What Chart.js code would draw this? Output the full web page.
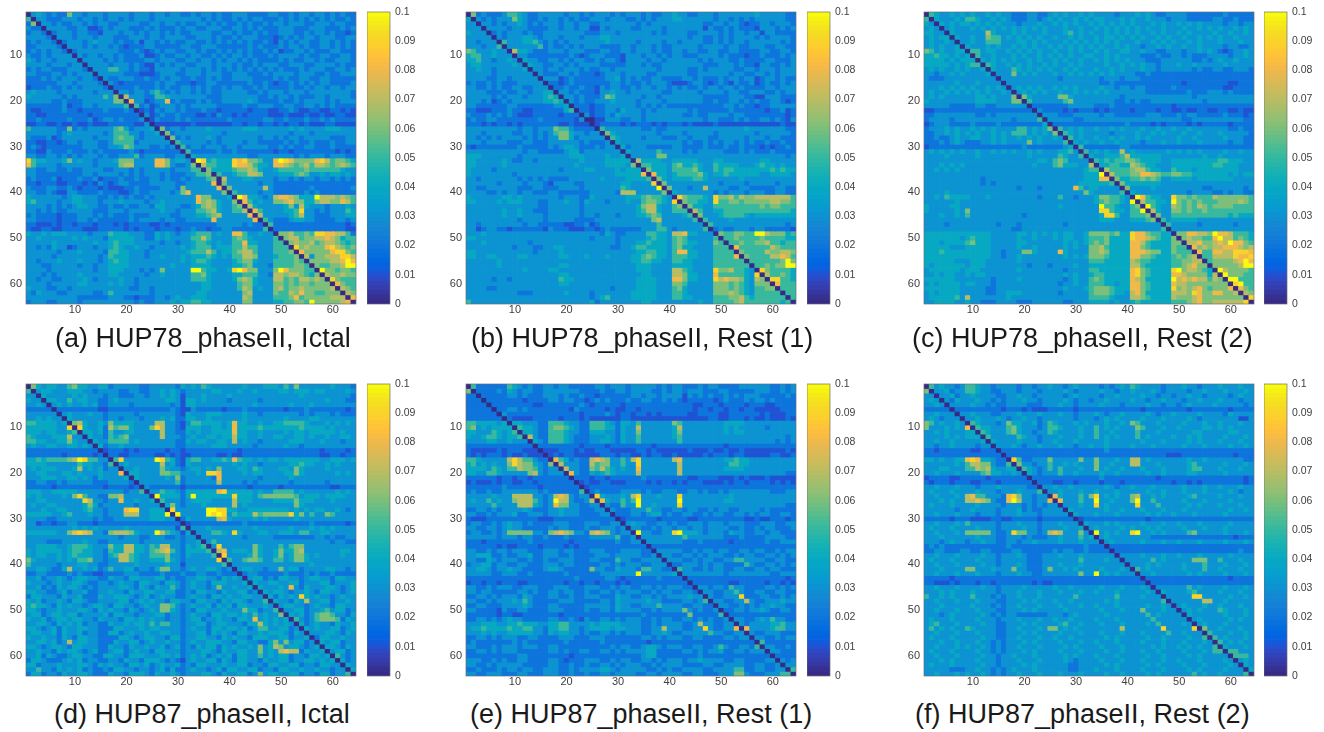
<!DOCTYPE html>
<html>
<head>
<meta charset="utf-8">
<script src="https://cdn.jsdelivr.net/npm/chart.js@4"></script>
<style>
body { margin: 0; background: #fff; width: 1324px; height: 732px; overflow: hidden; position: relative; }
canvas { position: absolute; filter: blur(0.35px); }
.cap { position: absolute; font: 27px "Liberation Sans", sans-serif; color: #1a1a1a; white-space: nowrap; }
</style>
</head>
<body>
<script>
const tickVals = [10, 20, 30, 40, 50, 60];
const barTicks = [0, 0.01, 0.02, 0.03, 0.04, 0.05, 0.06, 0.07, 0.08, 0.09, 0.1];
const titles = ['(a) HUP78_phaseII, Ictal', '(b) HUP78_phaseII, Rest (1)', '(c) HUP78_phaseII, Rest (2)',
    '(d) HUP87_phaseII, Ictal', '(e) HUP87_phaseII, Rest (1)', '(f) HUP87_phaseII, Rest (2)'];
const parula = [
    [.2081,.1663,.5292],[.2116,.1898,.5777],[.2123,.2138,.6270],[.2081,.2386,.6771],[.1959,.2645,.7279],[.1707,.2919,.7792],[.1253,.3242,.8303],[.0591,.3598,.8683],
    [.0117,.3875,.8820],[.0060,.4086,.8828],[.0165,.4266,.8786],[.0329,.4430,.8720],[.0498,.4586,.8641],[.0629,.4737,.8554],[.0723,.4887,.8467],[.0779,.5040,.8384],
    [.0793,.5200,.8312],[.0749,.5375,.8263],[.0641,.5570,.8240],[.0488,.5772,.8228],[.0343,.5966,.8199],[.0265,.6137,.8135],[.0239,.6287,.8038],[.0231,.6418,.7913],
    [.0228,.6535,.7768],[.0267,.6642,.7607],[.0384,.6743,.7436],[.0590,.6838,.7254],[.0843,.6928,.7062],[.1133,.7015,.6859],[.1453,.7098,.6646],[.1801,.7177,.6424],
    [.2178,.7250,.6193],[.2586,.7317,.5954],[.3022,.7376,.5712],[.3482,.7424,.5473],[.3953,.7459,.5244],[.4420,.7481,.5033],[.4871,.7491,.4840],[.5300,.7491,.4661],
    [.5709,.7485,.4494],[.6099,.7473,.4337],[.6473,.7456,.4188],[.6834,.7435,.4044],[.7184,.7411,.3905],[.7525,.7384,.3768],[.7858,.7356,.3633],[.8185,.7327,.3498],
    [.8507,.7299,.3360],[.8824,.7274,.3217],[.9139,.7258,.3063],[.9450,.7261,.2886],[.9739,.7314,.2666],[.9938,.7455,.2403],[.9990,.7653,.2164],[.9955,.7861,.1967],
    [.9880,.8066,.1794],[.9789,.8271,.1633],[.9697,.8481,.1475],[.9626,.8705,.1309],[.9589,.8949,.1132],[.9598,.9218,.0948],[.9661,.9514,.0755],[.9763,.9831,.0538]
].map(c => `rgb(${c.map(v => Math.round(v * 255)).join(',')})`);

// one string per row, one char per column, in hundredths (a = 0.1), spaced every 8 columns
const panelA = [
'03432322 63323332 33332333 23323322 32332322 33322223 32232332 33232322',
'50332223 33233232 33232333 23333333 33232322 32323322 23232323 23232232',
'26033232 23323233 22333322 33233232 23323232 23232232 33233322 33323322',
'32203333 22331123 23332223 23222323 32233322 33232322 23332223 33222323',
'23320233 32332213 33233232 33232322 33332233 23223232 23332232 33232212',
'33332033 32333233 32223332 33233332 23332322 32333222 12323233 23332233',
'23233202 33323433 32322313 32323223 32232323 23232232 13232332 23323232',
'22333320 33323233 23212223 32222233 22333222 22232322 23233232 23323232',
'23232332 02333333 33222321 23233223 32322323 23232232 31223323 22233222',
'32232333 30323323 32322231 12322332 33223232 33232223 23333232 23322332',
'43233233 33033332 32322223 32333223 32332323 32323222 23232233 23223332',
'33332333 23303333 23332321 13232332 23332333 23223233 32233322 33332322',
'23233222 33320333 55332322 13333323 33232323 23232323 23222323 33223323',
'33222332 32333033 33322211 12333223 33233322 33322232 33332333 22322333',
'22232323 33233203 22333223 22323322 32232322 33332222 32322332 23322222',
'22222233 32333320 32122222 23233222 12233222 22232232 12232323 23322223',
'12223223 23233332 02222322 23232233 23232232 33223232 22232232 33233233',
'34333323 33333233 30332332 45323233 23232233 33322323 33233323 33333332',
'43333332 32333335 36073332 25543333 33322233 33333223 23323222 33233332',
'33333223 22233333 36608331 23382322 23232233 33343222 23223233 33232333',
'22222223 12233233 33350523 12333232 33333222 22322333 22332233 23232222',
'21122223 22122223 22232012 13233232 22322122 22212221 12232112 21122121',
'22112222 22221222 22222203 12322322 21121322 12122221 11211121 12112211',
'22322222 32223123 32322230 13222323 22222223 22222233 22322232 23232222',
'11221121 12112111 22222113 01111111 21111111 22122122 12122121 11221111',
'53333322 62323333 35642333 40623323 33343333 33444333 33343433 33444333',
'33333323 43333332 35553323 34062333 33333323 33333333 33323332 33333333',
'32223123 33333233 35655323 33306232 33343233 33333233 23233233 33322233',
'22112212 33233322 35555233 33330533 33323233 33233222 22323223 22232233',
'23212222 22233322 33465333 22323052 33233323 32333332 23232233 22232222',
'22113222 32223232 22223212 22222205 22222322 32222222 12212222 22221212',
'33223323 23233323 22333523 33322330 43333333 33322333 33332323 33233322',
'95443334 63433233 34666333 38863443 0a945444 98966533 8a986666 89756654',
'85333323 33333233 33677333 38863223 60755444 98875443 88765675 77656765',
'33223322 32233332 23332323 33332333 55064444 56676433 45555565 55555433',
'33222222 22233233 33232323 33232223 35560533 45577633 34445653 34344343',
'23222312 22322312 22322322 33232232 33356073 33443333 23323233 23323232',
'22122211 22212132 12332222 33333223 33338063 33333233 22222222 22222222',
'32223322 32122212 11122322 22333263 33333806 33333373 22222223 22222223',
'33223211 33222232 22112322 33332368 33333360 53333233 22222232 32222222',
'43333332 34433322 32323223 23333333 38663334 0a844323 78876444 a7776765',
'45333323 34433323 33433332 33433333 38676433 60853433 66786644 67766875',
'33332323 23443322 32232233 24433322 34676433 56074333 33463743 33233343',
'33232322 33333222 33323333 33433233 35567433 55708533 33445933 23233354',
'23222212 22333232 32223222 33332233 34456733 33380733 33345733 22233344',
'33222212 22332322 22223233 33233223 33338333 33338053 22234433 22223323',
'22111212 21222122 21212222 11212222 22222333 33232205 22222222 22222212',
'21122112 22211122 22212122 21222122 32212233 22222250 22222222 22222211',
'43343444 33332333 54443332 24343233 45553433 88533433 06675565 99887752',
'33433333 34343332 44444332 24343333 55753333 56543333 50677566 77876455',
'33333433 33333433 45444333 33233233 45543433 55844333 55067667 56776545',
'33232433 12333233 45433433 23333343 45553444 55755333 55509676 66897656',
'33333323 33433332 55443332 33333334 55575344 56775333 55560866 66689965',
'33333233 33333323 54443332 33433343 44454343 55776333 45556073 66777997',
'33233343 33433323 45443333 33333343 45543333 45664333 55556506 666778a8',
'33322333 33233233 44443333 33334333 44443333 44563332 55556650 655667aa',
'33332333 33333233 44433323 23633333 aa544334 9a866333 6a866655 0a665665',
'33323233 33433333 44333332 33433333 55643333 44555332 77677654 60766766',
'33233223 33343233 33433233 33333333 55543333 46764333 77565776 76096555',
'33332333 33443333 43433233 33333333 33443333 35664333 66565665 66608655',
'43332233 23333333 33332233 23333333 33443333 35763433 67566766 66670765',
'32433322 33333223 53333333 23333333 34433333 33673333 65576866 55666076',
'33333333 33222222 33322122 23323433 44433333 33763333 55568566 66677708',
'23332233 33233333 33333232 23334344 55443333 33663333 4455665a 66666780'
];
const panelB = [
'06232223 55432233 33323323 23332323 33232233 43322333 23333333 43333322',
'40323233 36432232 33232322 33323332 23232333 44333333 23323232 33333322',
'33033232 33432323 33233233 22333333 32323333 33333322 33233212 23323332',
'33303333 23332222 33233233 11323333 22333323 33333313 22323222 13332323',
'43330232 33323223 33333332 22333233 33332323 33322333 32323323 31332222',
'33333032 33344323 33233323 33443333 33333333 33323322 32323333 23233332',
'33233305 33344532 32323333 33343333 32333323 32333322 32323323 33333232',
'33323350 33333352 32232323 33222233 23332322 33333233 33233223 33223322',
'65333433 07443222 33323332 22332233 23332322 33233223 32233222 23322332',
'45533433 30332222 22223212 33322213 33233232 33222333 32322212 23222323',
'44533233 43043322 33232332 23233213 33323323 33333232 33322322 22332223',
'34433333 34304332 23323233 33222223 33232233 33333322 23332322 13322323',
'33433233 33340332 33233323 22332333 33333233 33322323 33332233 23332333',
'33333233 33333032 22332322 21233323 33322333 33322333 33323322 33232333',
'33332233 23333303 33123222 22233423 23223322 22332322 23233233 12332322',
'23223232 22333330 22123222 22223323 22323332 11123321 23213223 12322323',
'33223232 23322333 02232232 21323322 32332332 32322323 32332322 22332333',
'33332223 22332334 40332322 21334332 33333322 33333233 33233223 33223233',
'33333232 33323334 54033232 22365333 33233233 33333322 22233322 11333222',
'33323123 23333334 45403232 23334333 32333323 33333322 32233232 32233212',
'33222222 33222222 23340222 12233333 32323232 22222222 22332322 12233333',
'22111222 32211222 22245022 12233243 33232333 33323222 22232222 22122312',
'32223232 32111222 22122203 12232433 33233333 33223223 33323322 22222212',
'23223322 22222232 22222130 01133322 33233333 33333323 32223232 23323213',
'22212122 12122222 22112111 01222212 12221212 22121111 21111111 11111211',
'33333333 33233233 36553222 20533333 33223223 33333333 33333343 33333322',
'33323333 32233232 35664332 33064333 33333233 33233333 23333333 23333332',
'33232323 33323232 33664233 33305433 33233322 23323332 23333323 33233222',
'33323333 22233222 33333323 22230433 33333333 33232232 32332323 22322322',
'21222222 22322222 32344322 23233042 33322222 33222232 22322322 21212232',
'33333333 33323322 22234423 33333304 33333533 33232333 33222323 22232222',
'44433333 33233333 33334443 33343340 33333663 33333333 33333333 33333323',
'44333334 32233233 33333343 33344444 07444433 44444333 44333333 34433333',
'44333334 33333333 33333433 33344443 60554443 56445433 54444333 45443433',
'43333233 33333333 33233334 43333434 44064443 55556433 54554444 44454544',
'43333333 32333333 33333333 33333444 44808443 45555643 44544444 43344443',
'33233333 33232323 22223333 33433334 44450643 44445543 33333433 33333333',
'33333323 33323332 13333223 33333344 33339063 33333333 32333323 33332333',
'33223333 33222332 22333323 33333354 33333a06 33323373 33322332 22223322',
'33332232 33233222 33222222 33333277 73333360 43333333 23233323 33223322',
'43333334 43433333 33233322 43333334 44565543 09655543 96675766 77777775',
'44333343 44433322 33343324 33323334 33566543 90655443 95566566 66677665',
'33333333 33333322 33333323 33333333 34677433 56064433 55555555 56566555',
'33333334 33433222 33333323 33333333 34577433 55507533 44555555 55555554',
'33333334 33433332 33333323 32333233 34456533 33450633 34555543 44444444',
'33333333 33233332 33333222 23333333 33336733 33335053 33343333 33333333',
'33233333 33323322 22211223 12333333 33333533 33333305 33333333 33333323',
'33123322 12222221 32221112 21232222 22333553 23333350 23223332 33222221',
'33343333 33333333 33333333 33243223 33355443 77844333 06556655 aa766645',
'44333333 33333333 33333333 23333233 33345443 56533333 50556555 56555544',
'33343333 33332333 33333333 33333233 34454443 56544333 65055655 66755455',
'33333333 32333223 34433333 33332233 45544443 56443333 55508555 55576555',
'44333333 33333233 33433333 33333333 34455443 58844333 55550655 55766776',
'44334433 33443333 33443334 33343333 44565443 55544333 55558065 55577875',
'33333343 33333333 33333333 33333333 44554433 55443333 55555505 555556a6',
'33333343 33333333 33443333 33333333 34443333 44443333 55555550 556566aa',
'33333333 33343333 44333333 33333333 34443333 77543333 96675543 09655554',
'33333333 33333333 33443333 33333333 33443333 77644333 85555543 90755654',
'33333233 23333333 33544333 33333333 34444333 88644333 97877643 76099554',
'33333333 33333333 33443333 33333333 34444333 66533333 66656543 66608555',
'33332233 33333333 33333333 33332333 34444333 56433333 66656543 55660555',
'33333333 33222333 33343333 23333333 44444333 55433333 66676543 55555055',
'33333333 33333333 33333333 23453333 44444333 55443333 55566754 55555505',
'53333333 33333333 33333333 42333333 33443333 33333433 55556755 55555450'
];
const panelC = [
'05433434 34334343 32223322 34343343 43333233 34343223 33322222 22322222',
'50433343 55433434 32223323 43433434 34433343 43343332 33322222 33223222',
'43043434 43434343 33233343 34343433 43434343 43334343 34343433 33233233',
'34303433 34343434 34343434 33343343 34343434 34343343 33433434 34334343',
'44330433 33337433 34343334 33345343 43343434 34334343 34343333 43343343',
'34344043 34336553 43434343 34334343 34344343 43433434 33433434 34334333',
'34334303 34335553 33443434 33343434 34343433 34334343 43343433 34333433',
'34343340 43334343 34343433 43434343 43433434 33233434 33433433 33233223',
'65343344 05534433 43434343 34334343 34343344 33433223 33233434 32123343',
'44544343 40533433 34343343 43434334 43343433 33222322 33232223 33323343',
'44443434 44043434 34334343 34343343 34343434 33322233 33332232 34334333',
'44444343 45505433 43434334 34334343 33343343 43433233 34334333 33433333',
'34343343 43340433 35434343 43343433 34334343 33433233 33332322 33223332',
'33233434 33334033 36343433 34334343 43434333 32232222 22222222 22222222',
'32223333 33333303 33333333 33233333 33233323 33222222 22222222 22222222',
'33333343 33433330 33333333 33333333 33223222 22222222 22122222 22211222',
'33343434 34334343 03434343 34343433 33433233 23322222 32222222 22112222',
'34334343 43434334 30343434 33433434 34343333 33322222 22232223 33232222',
'34343333 33443433 36064333 33664333 33333323 33333333 33332333 33333333',
'43333333 33444433 36605333 33356333 33333223 23223333 33333323 33333333',
'33333222 22332233 33330222 22223333 32223222 22222222 12222222 22222222',
'11222222 22222222 22222032 22212122 21212222 12222122 11211221 12211211',
'22333333 33223233 33333303 33222333 33233222 22233322 23233222 22322212',
'23333233 33333333 32333350 33333223 33333333 33333333 33223333 33333322',
'12333222 23222232 22222224 02222222 22222223 22221212 22212122 22212222',
'23334343 34343433 33553434 60534343 34334343 33433433 43343333 33322322',
'22334343 43433434 35553434 36054343 33332333 34334343 33433433 34333332',
'22322343 34433434 33434343 34305343 34334343 34343333 34334333 33433322',
'22232343 22233434 33336343 33350434 33433433 33233343 34333433 33323322',
'12222222 22222222 22232222 22234052 22222233 22222222 22222222 22222222',
'34343434 33433434 34334343 33445305 34343373 43333334 34343433 33433433',
'33334333 33433333 33334333 33543350 43344457 44444433 33333343 34333333',
'33333333 33333333 33333344 35653333 05454556 65444433 44444444 45544433',
'33343434 33333333 33333433 35644433 70445544 76544333 44444444 55444333',
'33434343 33333333 33333333 33333334 55075555 67754433 54443444 44444333',
'33333333 33333333 33333333 33333334 44a07555 66887655 66554444 44434344',
'33333333 33323333 33333333 33333334 44880644 55656533 44443444 44443333',
'33333333 33323233 33333333 33333344 44445064 44444433 33333333 33333333',
'33333333 33333333 33233323 33333853 44333306 33334333 33333322 33333323',
'33334333 33333333 33333333 33333336 43333350 43333333 33323333 22323322',
'33435444 43334333 33333323 33533233 34665543 0a854433 96656555 76666665',
'33333343 33333333 33333333 33333333 34565543 a0755443 a6565655 56666765',
'43333443 33333333 33333333 33433333 33a55433 560a5433 76565765 66665555',
'43333343 63333333 33333333 33333333 33995443 55a07433 66565565 55555555',
'33343343 53333333 33323333 33333333 33499533 55560633 55555555 55545444',
'33333333 33333333 33333333 33333333 33444333 44456053 44444333 33333333',
'33332333 33333323 33233333 33323333 33333333 33333305 33333233 33332333',
'33333333 33333333 32233333 33333333 33333333 33333350 33333333 33333333',
'44444444 44444333 33443434 34344334 66665644 98865544 06688776 a8875554',
'44444443 45444333 33433433 34344334 55564444 98876544 60676655 8a775654',
'44434444 56444333 33443333 33343434 56564444 88754444 66077866 787a8865',
'44444333 44444333 33433433 33343433 66754444 88654444 65508676 77888767',
'44454444 44444332 33366433 33843333 66764444 88876644 65550855 88779998',
'44444444 44444332 33433333 33343434 66654444 88665444 56567055 77779889',
'44444433 34443333 33433333 33333333 55544444 76554444 55667705 666678a8',
'43444444 34443333 33332333 23333433 44444444 77544444 55678660 666667aa',
'34444443 44433333 33433333 33323333 55444444 89654444 9a677654 0a766665',
'33434433 43443333 33333333 33343433 45544444 89654444 88766664 70a66655',
'44444433 33333233 33433333 33323433 56544444 87644444 a7878775 760aa555',
'34344443 44333233 33333333 33233433 55544344 88654444 87766666 66609a55',
'44444443 33332233 33333333 33343334 56665444 88654444 96767865 66680865',
'34344443 33332233 44433333 33233333 56665443 78644444 77769866 88667076',
'34444453 73333333 43333333 33333333 55554333 77654444 76667866 66666609',
'33444433 43322233 33222333 33322333 44443433 45444444 55567866 77777790'
];
const panelD = [
'06434433 56443344 23333322 33333243 43543333 33433344 43536333 33343332',
'50344333 44433233 33223322 33434323 33334433 34334333 34434443 44333343',
'33043333 34343332 33222332 33434313 33433334 33333333 33333433 33333332',
'43304433 53443322 34333333 33344314 43433332 33333233 33333333 33433322',
'33430343 43343422 33332333 33332314 43333333 33334333 33343334 33333333',
'22222022 22222211 22222222 22223211 32222212 22322222 22122232 22222212',
'33333303 43334332 33333233 33333214 33344433 33433233 33333232 33323222',
'33434330 43333332 33233323 33434224 43343333 33433333 33433334 43333333',
'55444434 06743343 64444333 37733213 55444434 84433433 44555543 33434343',
'44444433 90943342 75664333 69733214 44334434 84444544 44444544 44343333',
'44434433 45044342 53344333 33733224 34334444 84433433 33434434 44443433',
'54333444 73304332 54563333 33733323 43344344 74433433 44334434 33433443',
'55443344 64330433 55553433 33333224 34433443 73433233 33344433 34333233',
'34334433 44343042 33433333 33333223 33334443 33332333 33433233 33333333',
'22222222 22222201 22212122 22212212 22222222 21222222 22222222 21222212',
'22222221 22222120 22112222 21121211 22222112 11222222 22222222 21122122',
'44545555 67a95533 05933333 3a954214 55334454 85443434 43444444 43344434',
'44443333 33544332 50343333 33734214 33333333 43433233 33344544 33434333',
'34344433 34734342 33033433 33643323 44343633 34435433 34436433 33433333',
'33443334 43433343 33804433 33665533 34399833 33434433 33446433 33334343',
'33344433 44343243 33340433 33343623 33332833 33333233 33343333 33333333',
'22332232 33333222 33332033 33333523 33333733 33232333 33323333 33233333',
'22222122 22222221 22221203 22222212 22222222 22212222 21222222 22211222',
'44433444 44333333 33323350 33544324 44444894 44443433 55553433 33334343',
'43433334 36953322 66733333 0a444424 a4444444 94443566 66665344 43444433',
'33443333 33397332 33833433 40533323 44443333 74443333 44446444 33343333',
'34334433 33346423 33333233 33046323 33433333 73433333 33336433 33333333',
'33343344 33345332 33389933 44409333 333aa994 43344444 44434343 44334323',
'44444334 53334332 33377733 444a0a33 333a9a93 54447566 66694635 33653333',
'33332233 33333232 23333333 44433024 33333784 33334343 33334333 33333333',
'33122122 33222122 22222222 22222201 22222222 22322222 22222223 22222212',
'33333333 34343433 33343333 33333150 33343333 33334333 33343334 34343333',
'44444433 68987332 67776433 3a754314 03335543 94333443 34443553 34433333',
'33333333 33333333 33233322 33322323 30333333 33233333 22222222 33232233',
'33332223 33343322 33333323 33333323 34035333 33333333 33333333 33323322',
'33444433 45554333 64477443 54773324 34503933 33336433 35356633 33333333',
'43444443 45544332 54477443 56785324 44450783 44436433 46446733 33333443',
'43443343 45444332 45775433 55563324 33335093 33346433 46346643 43333433',
'64333343 43556332 33775433 44464323 33333905 33566533 55346643 33333333',
'53333323 33443322 33333433 33343313 33333350 33333333 33333334 33333333',
'33443224 73343423 53344233 24663323 43344323 03443323 36344233 33443323',
'22332222 32322112 22233322 22322232 23322322 20233222 22322232 32232222',
'33423343 23443322 43324433 34423223 34433243 43034423 24433234 43324433',
'43332343 34432233 23433244 33244323 43324443 33404334 43344233 34423334',
'33423243 44323233 33443243 24335323 43323633 43340433 34383243 33443234',
'44332234 23342233 43324334 43344223 24433243 34423043 44323343 24433234',
'24433324 33422243 34443234 23433223 43324434 33443304 24343943 43323433',
'43423343 24432233 33442343 43324433 24433243 44323350 43324373 34423343',
'45443243 43323443 24433234 33665323 43342434 24433343 03443323 43324433',
'44323343 33443243 43324323 43664323 24433343 33644233 50334423 34534423',
'34423443 44233334 24433233 34423323 43324434 43435343 36043423 56653324',
'43342344 34433243 33244343 43323323 44233433 24438343 43405323 56665243',
'33443243 43423322 43343443 53553323 34423443 33244743 43430423 43324334',
'44323424 33443322 24433343 44333323 43324434 43423553 34423043 43344234',
'34433424 33423322 44234334 33443323 34424343 24433434 44324303 33443243',
'43343324 32443322 22443234 43324423 34433243 43324443 34423340 24433433',
'33443423 73443322 24334423 43343323 43344433 24433224 63634423 04344233',
'44323443 24433322 43324334 33423423 24344243 43343634 76344323 40443243',
'33433243 44323422 34423433 24433323 33443243 34433634 37877243 34034423',
'33424322 34433224 43324443 33443423 43423434 24433534 34423324 43405323',
'24432223 43423322 33243324 44323213 43344243 24433243 34423344 34340423',
'44233343 33443243 43324434 23433423 24433343 34423324 43344233 24433043',
'33533243 43423223 24433233 23424223 43323424 43344233 24433433 43323304',
'24423324 33443222 43324443 24334323 33443243 34423634 43344233 24423350'
];
const panelE = [
'05222222 54323223 32332222 23323332 33333232 33222323 32222333 33322323',
'60222232 43233223 33333322 22322332 33332232 33233322 23322222 33322323',
'22022222 33232223 33232232 21222222 33233233 33132323 22323233 32222232',
'22202222 22212222 33233221 23232223 22332232 32122222 12322232 33232222',
'22220222 22222112 22222232 12222212 22222222 22221122 21222212 22112222',
'22222022 33232222 22221322 22212112 21222222 22221221 22122122 11111222',
'22222203 22222222 22222212 22232122 12212122 22211222 21122222 21211122',
'22222220 21111222 22122212 11111122 11111111 11111112 21122212 11211121',
'55444434 04433322 55543322 55543244 35333333 65333333 33444433 33333333',
'56343444 40544322 56654322 55544243 37333333 47333333 33434333 33233333',
'44333543 45044322 55543322 44433243 36333333 46333333 33434433 33333333',
'43345543 44507322 55543222 33343243 35333333 45333333 33333333 33333323',
'33334433 43330432 55543222 33443243 35333333 35333333 33333333 33332323',
'22222222 22222022 22222212 22212222 22221222 22222222 22122222 22222222',
'21111121 22211101 11222121 12221111 12212111 11121112 11211211 11111121',
'21212221 21121110 12122111 11222122 11212211 21111121 22212211 11122112',
'55433333 79755322 08542322 78763353 79333333 78333333 33445443 33333333',
'45343433 69766432 60733322 75663353 39333333 37333333 33355443 33333333',
'44443543 55766532 33073322 65754343 38333333 37333333 33444433 33333333',
'44335543 33336732 33308322 43454333 37333333 37333333 33333333 33333322',
'22222212 21221222 22220222 12212222 22322222 22211222 21112121 11211111',
'12111212 21122122 22222012 11221112 22212122 12122211 11212212 22212121',
'22222223 22222212 22222201 22222222 22222222 22222222 22222222 22222222',
'23223223 33333323 22222250 23222233 33232233 32233232 23233333 33322233',
'33333433 37777332 37873233 09433343 79333433 39333333 33343333 33333333',
'34335343 36777532 3a773223 70843353 5a333333 3a333333 33443333 33333333',
'33333533 33777432 38663322 33032253 3a334333 39333333 33333333 33333322',
'22332323 33343222 33433322 23303222 33353322 33233223 23322333 32322222',
'33223233 34223332 33433322 22330222 33234423 22332232 33223323 23322332',
'21112222 22222211 12222222 22222012 22222122 22211222 22222211 21122212',
'23322323 43323222 23332223 33223303 43322332 32233323 33233322 23332233',
'33223323 43322222 32332223 22333230 33223233 23323323 33322322 32332223',
'23322323 66666332 67876332 78763233 0a332233 9a444323 33243322 33233222',
'33333323 33233223 22232222 33333522 30333333 33533333 33222322 22333322',
'22212222 22223222 22221222 22222322 33033333 33222322 22212222 22322333',
'22222212 11222212 22212122 22222222 22202222 22222222 22222222 22222222',
'33223233 23332223 33233222 33322233 33220333 33223233 23322332 33223233',
'33444223 22334223 33223222 23332333 33223033 22332323 33223233 22332323',
'33224323 33223223 22333222 33222533 22333303 33223233 22335533 33223322',
'23344233 22332223 33233222 22332323 33223330 22333232 33222253 22332323',
'33443233 43322223 44322222 63322433 32553322 05332232 33223322 33233222',
'33333223 33223222 22232222 22333333 3a333333 40333333 33233333 33322333',
'22222222 22222222 22222322 22233212 22222322 22022222 22222222 22222212',
'12212212 22112222 22212212 21222121 22222222 22202222 22211222 22122121',
'33223233 32233322 23332223 33223233 22332323 33220332 33253322 22332323',
'33233222 22332322 33233223 22332323 33223233 22332033 22335322 33223322',
'22332323 33243222 33223223 33222433 22332323 33343303 22333922 23322323',
'33223233 34353222 22333222 22332433 33343322 22332350 33223373 22333433',
'22332223 33343222 33222223 33332433 22333533 33223322 03322323 23343322',
'33222213 22332222 33322223 22332433 33223233 33632322 30223323 34322332',
'22222212 21122222 22122222 22222222 22322222 22262222 25022222 22222222',
'22332323 43322222 33223213 22332323 33223233 22332323 22303322 34353322',
'33344433 44544433 44553333 43444433 33223233 33223733 22330323 33344533',
'34454444 54455332 44553323 44443443 33223373 33223393 22338083 33345533',
'33343433 44444332 43443323 22332323 33223343 22333335 33223303 22333222',
'22332323 33223322 22333222 33322222 22332323 33223322 22332330 33223233',
'23222222 23232222 22232222 22322222 22212222 22222222 22222222 05222222',
'33222323 33233322 33222222 22223233 22344323 33223322 35322332 50332232',
'22332323 33222222 33232233 22332323 33344222 22332323 34223323 33033222',
'22222222 22332222 22221222 22222222 22344222 22222322 22222222 22202222',
'33322323 22332222 33212223 33223233 22332323 33233433 33223322 22330323',
'33223233 33322222 33223223 22332323 33223233 33222233 22333322 33223033',
'22322232 33233223 33223233 33443233 33322323 22333322 33335522 33223305',
'33223332 22332223 33223223 22332333 32233233 33223322 23336632 22333550'
];
const panelF = [
'05343323 55433233 33233233 43323433 33232343 54333323 33433233 34333433',
'60334233 55433223 33233323 33343233 33433233 43334323 33323343 33433343',
'33033423 34333322 33433233 33323433 33233433 33433233 23343323 33323433',
'34303243 33433232 33343323 33343233 23343333 43323343 33233433 34333233',
'33430333 34332322 33332223 33433233 33433323 33343323 32343333 43333323',
'22222022 22222221 22212111 22222122 22222222 22122222 22212222 22212222',
'33433303 34333223 33433343 33433233 34323343 33343233 43333433 33243333',
'34323330 33433343 23343323 33333233 32343433 33433343 33343233 33333113',
'65343343 05433323 64433423 54333434 33343343 65333433 33433343 34333433',
'63334343 80544333 56433323 55433343 35343433 36533343 34333344 34343333',
'33434333 44054333 56433233 54333343 35334333 35333433 33334433 33344333',
'33334343 44405333 33543323 33433343 35343433 35343333 43343433 33433343',
'33433433 33340433 33433323 34333433 33343333 33433343 33343433 34333433',
'33233433 33233033 34323343 33433233 43343333 43334333 33433343 33343343',
'22122222 21122202 22222222 22222222 22232222 22222222 22222222 22222222',
'22222222 22222220 22222222 22222222 22222222 22222221 11222222 22221222',
'44343344 89844322 09522333 63333363 36333433 77343333 33343343 33333322',
'33333343 57766322 50633233 53343433 36334333 77333433 33345333 33433343',
'33344333 55767433 44054323 53533343 36343343 33433343 33345533 34333433',
'33433343 33356443 34304323 33533433 33433433 33343343 33344333 33433333',
'12222112 22221222 22220222 22222222 22322222 22222122 22222222 22222212',
'21222122 21122212 22222022 21122122 22122212 22222222 12212122 22222212',
'33433343 33233343 33332203 34334333 33343233 43334333 33433343 34333433',
'34333433 33433323 33433350 33433343 34333433 33343343 33433343 33343233',
'33433343 78553332 89633233 08433353 69343433 67334343 33345333 34333433',
'33343433 77876322 8a733233 80833353 3a334333 6a335333 33433343 33343333',
'34333433 33433332 33323232 33033343 39343333 39333533 33343433 34333433',
'33333323 34333323 33423223 33304333 33343343 33433343 33433333 33343343',
'33433343 33233323 33433323 33330433 34333433 33343433 43334333 33433333',
'22222122 21111221 12222212 22222012 22222222 22212222 22222222 22222222',
'33433343 53333323 33433323 33433304 33343433 33433343 34333433 33343333',
'34333433 33433323 33343323 33343340 34333343 43343433 33433343 33433333',
'33433343 66666322 39663323 78733363 0a343433 9a334343 33356333 33433343',
'33343333 33433322 33323222 33433353 40343333 33332222 22222222 22221222',
'33323433 23343322 33233433 33433343 33034333 33433343 34333433 33433343',
'23232222 22222222 32222222 22222223 22202222 22222222 22222222 22222222',
'22332223 32233222 23322222 23233223 22220222 22222222 22222222 22222322',
'33433343 33343323 33432223 33433343 33333033 33433343 34333433 33343333',
'34333433 33433323 33332223 33333353 33343303 33335343 33336663 35333433',
'33433343 33343323 33432223 33433343 33333330 33343433 33433353 33433343',
'33343333 66333433 36332223 63343433 33433343 05343333 33433353 34333433',
'33433343 33433323 33433223 33333363 3a343433 30334333 33343433 33433343',
'22222122 22222222 22222222 22222222 22222222 22022222 22222222 22212222',
'22111212 22122122 22222121 12222222 22222222 22202222 22222222 22222222',
'33433343 33343323 33343333 34334333 33433343 33430333 33353433 33433343',
'33343433 34333323 33433343 33433343 34333433 33343043 33345333 34333433',
'53343433 35333232 33433343 33333533 33333533 33433303 33339933 33343343',
'33433343 33433322 33343433 34334333 33343433 33333350 33333377 33433333',
'33343333 34333232 33433343 33433343 34333433 33343343 03433343 34333433',
'33433343 33433322 33343433 33343333 33433343 33633343 30343433 35433343',
'33323433 33343232 33222222 33323433 33343333 33353433 33043333 33433343',
'34333433 33433323 33433343 34334333 34333433 33335333 33303433 33343433',
'34533343 33343322 33343433 33453343 33433343 33343533 33430343 33433333',
'35343433 54333322 33433343 66343433 33333373 33333393 33339063 34333433',
'33433343 33433322 33343433 33433343 33433343 33433335 33433305 33343343',
'34333433 33343322 33433343 34334333 33343433 33343343 33343350 53433343',
'33343343 33433232 33343433 33433343 34333433 33433343 33433343 05343433',
'33433343 43343232 33433343 33343433 33433343 33334343 34343433 50433343',
'34333433 33433232 33343433 33433343 33343343 33433433 33433343 55055333',
'33433343 33343323 34333433 33343433 34333433 33343343 33343433 33305553',
'33343433 33433323 33433343 33343233 33433343 33433343 34333433 33430343',
'34333433 33343323 33343433 33332233 33343433 33343433 33433343 33343043',
'33333222 33433232 34333433 33332233 34333433 33433343 33343433 33433304',
'33433343 43343232 33433343 33433343 33343343 33343433 33335343 34333350'
];
const panels = [panelA, panelB, panelC, panelD, panelE, panelF].map(p => p.map(s => s.replace(/ /g, '')));

// plot box positions of the six panels
const lefts = [26, 466, 924];
const barLefts = [367, 807, 1264];
const tops = [12, 384];
const capLefts = [[55, 471, 912], [54, 470, 915]];
const capTops = [323, 699];
const labels = Array.from({length: 64}, (_, i) => i + 1);

function colorOf(v) {
    return parula[Math.min(63, Math.floor(v / 0.1 * 64))];
}

const outline = {
    id: 'outline',
    afterDraw(c) {
        const a = c.chartArea;
        c.ctx.strokeStyle = '#6e6e6e';
        c.ctx.lineWidth = 0.7;
        c.ctx.strokeRect(a.left, a.top, a.width, a.height);
    }
};

function addCanvas(x, y, w, h) {
    const el = document.createElement('canvas');
    el.width = w; el.height = h;
    el.style.left = x + 'px'; el.style.top = y + 'px';
    document.body.appendChild(el);
    return el;
}

function drawPanel(rows, x, y) {
    const datasets = labels.map((_, r) => ({
        data: labels.map(() => [r + 0.5, r + 1.5]),
        backgroundColor: labels.map((_, c) => {
            const ch = rows[r][c] || '3';
            return colorOf(ch === 'a' ? 0.1 : +ch / 100);
        }),
        borderWidth: 0
    }));
    new Chart(addCanvas(x - 26, y - 12, 362, 325), {
        type: 'bar',
        data: {labels, datasets},
        plugins: [outline],
        options: {
            responsive: false, animation: false, events: [],
            layout: {padding: {top: 12, right: 6}},
            barPercentage: 1, categoryPercentage: 1,
            plugins: {legend: {display: false}, tooltip: {enabled: false}},
            scales: {
                x: {
                    stacked: true, grid: {display: false, drawTicks: false}, border: {display: false},
                    afterFit: s => { s.height = 21; },
                    ticks: {
                        autoSkip: false, maxRotation: 0, padding: -1, color: '#404040',
                        font: {family: 'Liberation Sans', size: 11},
                        callback: (v, i) => tickVals.includes(labels[i]) ? labels[i] : ''
                    }
                },
                y: {
                    reverse: true, min: 0.5, max: 64.5, grid: {display: false, drawTicks: false}, border: {display: false},
                    afterFit: s => { s.width = 26; },
                    afterBuildTicks: s => { s.ticks = tickVals.map(value => ({value})); },
                    ticks: {padding: 4, color: '#404040', font: {family: 'Liberation Sans', size: 11}}
                }
            }
        }
    });
}

function drawBar(x, y) {
    const datasets = parula.map((col, k) => ({
        data: [[k / 64 * 0.1, (k + 1) / 64 * 0.1]],
        backgroundColor: col,
        borderWidth: 0
    }));
    new Chart(addCanvas(x, y - 12, 60, 325), {
        type: 'bar',
        data: {labels: [''], datasets},
        plugins: [outline],
        options: {
            responsive: false, animation: false, events: [],
            layout: {padding: {top: 12}},
            barPercentage: 1, categoryPercentage: 1,
            plugins: {legend: {display: false}, tooltip: {enabled: false}},
            scales: {
                x: {
                    stacked: true, grid: {display: false}, border: {display: false},
                    afterFit: s => { s.height = 21; }, ticks: {display: false}
                },
                y: {
                    position: 'right', min: 0, max: 0.1, grid: {display: false, drawTicks: false}, border: {display: false},
                    afterFit: s => { s.width = 37; },
                    afterBuildTicks: s => { s.ticks = barTicks.map(value => ({value})); },
                    ticks: {
                        padding: 5, color: '#404040', font: {family: 'Liberation Sans', size: 10.5},
                        callback: v => String(v)
                    }
                }
            }
        }
    });
}

panels.forEach((rows, i) => {
    const col = i % 3, row = Math.floor(i / 3);
    drawPanel(rows, lefts[col], tops[row]);
    drawBar(barLefts[col], tops[row]);
    const cap = document.createElement('div');
    cap.className = 'cap';
    cap.textContent = titles[i];
    cap.style.left = capLefts[row][col] + 'px';
    cap.style.top = capTops[row] + 'px';
    document.body.appendChild(cap);
});
</script>
</body>
</html>
